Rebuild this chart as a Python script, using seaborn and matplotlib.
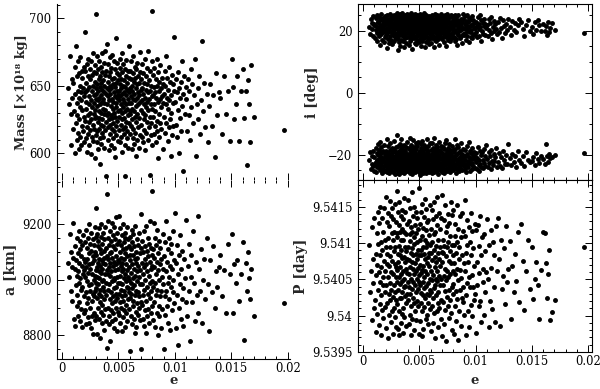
import matplotlib
matplotlib.use("Agg")
import matplotlib.pyplot as plt
import pandas as pd
import seaborn as sns
from matplotlib.ticker import MultipleLocator, FuncFormatter

# eccentricity of each solution (shared by all four panels)
e = [0.00052, 0.00063, 0.00071, 0.00078, 0.00082, 0.00087, 0.00091, 0.00096,
     0.00101, 0.00106, 0.00112, 0.00115, 0.00118, 0.00121, 0.00124, 0.00128, 0.00131, 0.00133,
     0.00136, 0.00139, 0.00141, 0.00144, 0.00146, 0.00149, 0.00151, 0.00153, 0.00156, 0.00158,
     0.00161, 0.00163, 0.00166, 0.00168, 0.00171, 0.00173, 0.00176, 0.00179, 0.00181, 0.00184,
     0.00187, 0.00191, 0.00193, 0.00196, 0.00198,
     0.00200, 0.00203, 0.00204, 0.00207, 0.00209, 0.00212, 0.00213, 0.00216, 0.00218, 0.00219,
     0.00222, 0.00225, 0.00226, 0.00228, 0.00231, 0.00232, 0.00235, 0.00237, 0.00238, 0.00241,
     0.00243, 0.00244, 0.00247, 0.00250, 0.00251, 0.00254, 0.00256, 0.00257, 0.00260, 0.00262,
     0.00264, 0.00265, 0.00268, 0.00270, 0.00273, 0.00274, 0.00276, 0.00279, 0.00280, 0.00283,
     0.00285, 0.00286, 0.00288, 0.00290, 0.00291, 0.00294, 0.00295, 0.00297, 0.00298, 0.00299,
     0.00300, 0.00302, 0.00304, 0.00305, 0.00307, 0.00308, 0.00310, 0.00312, 0.00313, 0.00315,
     0.00317, 0.00318, 0.00320, 0.00321, 0.00323, 0.00325, 0.00326, 0.00328, 0.00329, 0.00331,
     0.00333, 0.00334, 0.00336, 0.00337, 0.00339, 0.00341, 0.00342, 0.00344, 0.00345, 0.00347,
     0.00349, 0.00350, 0.00352, 0.00353, 0.00355, 0.00357, 0.00358, 0.00360, 0.00361, 0.00363,
     0.00365, 0.00366, 0.00368, 0.00369, 0.00371, 0.00373, 0.00374, 0.00376, 0.00378, 0.00379,
     0.00381, 0.00383, 0.00385, 0.00387, 0.00389, 0.00391, 0.00394, 0.00397,
     0.00400, 0.00401, 0.00403, 0.00405, 0.00406, 0.00408, 0.00410, 0.00411, 0.00413, 0.00415,
     0.00416, 0.00418, 0.00420, 0.00421, 0.00423, 0.00424, 0.00426, 0.00428, 0.00429, 0.00431,
     0.00433, 0.00434, 0.00436, 0.00438, 0.00439, 0.00441, 0.00443, 0.00444, 0.00446, 0.00448,
     0.00449, 0.00451, 0.00453, 0.00454, 0.00456, 0.00457, 0.00459, 0.00461, 0.00462, 0.00464,
     0.00466, 0.00467, 0.00469, 0.00471, 0.00472, 0.00474, 0.00476, 0.00477, 0.00479, 0.00481,
     0.00482, 0.00484, 0.00486, 0.00487, 0.00489, 0.00491, 0.00493, 0.00495, 0.00496, 0.00498,
     0.00501, 0.00502, 0.00504, 0.00506, 0.00507, 0.00509, 0.00511, 0.00512, 0.00514, 0.00516,
     0.00517, 0.00519, 0.00520, 0.00522, 0.00524, 0.00525, 0.00527, 0.00529, 0.00530, 0.00532,
     0.00534, 0.00535, 0.00537, 0.00539, 0.00540, 0.00542, 0.00544, 0.00545, 0.00547, 0.00549,
     0.00550, 0.00552, 0.00554, 0.00556, 0.00557, 0.00559, 0.00561, 0.00562, 0.00564, 0.00566,
     0.00567, 0.00569, 0.00571, 0.00572, 0.00574, 0.00576, 0.00578, 0.00579, 0.00581, 0.00583,
     0.00585, 0.00587, 0.00589, 0.00591, 0.00593, 0.00595, 0.00597, 0.00599,
     0.00600, 0.00602, 0.00604, 0.00606, 0.00608, 0.00609, 0.00611, 0.00613, 0.00615, 0.00617,
     0.00619, 0.00620, 0.00622, 0.00624, 0.00626, 0.00628, 0.00630, 0.00631, 0.00633, 0.00635,
     0.00637, 0.00639, 0.00641, 0.00642, 0.00644, 0.00646, 0.00648, 0.00650, 0.00652, 0.00653,
     0.00655, 0.00657, 0.00659, 0.00661, 0.00663, 0.00665, 0.00667, 0.00668, 0.00670, 0.00672,
     0.00674, 0.00676, 0.00678, 0.00680, 0.00682, 0.00684, 0.00687, 0.00689, 0.00691, 0.00694,
     0.00696, 0.00698,
     0.00700, 0.00702, 0.00705, 0.00707, 0.00709, 0.00711, 0.00713, 0.00716, 0.00718, 0.00720,
     0.00722, 0.00724, 0.00727, 0.00729, 0.00731, 0.00733, 0.00735, 0.00738, 0.00740, 0.00742,
     0.00744, 0.00747, 0.00749, 0.00751, 0.00754, 0.00756, 0.00758, 0.00761, 0.00763, 0.00765,
     0.00768, 0.00770, 0.00772, 0.00775, 0.00777, 0.00780, 0.00782, 0.00784, 0.00787, 0.00789,
     0.00791, 0.00793, 0.00795, 0.00797, 0.00799,
     0.00801, 0.00803, 0.00806, 0.00809, 0.00811, 0.00814, 0.00816, 0.00819, 0.00821, 0.00824,
     0.00826, 0.00829, 0.00831, 0.00834, 0.00837, 0.00839, 0.00842, 0.00844, 0.00847, 0.00850,
     0.00852, 0.00855, 0.00858, 0.00861, 0.00863, 0.00866, 0.00869, 0.00872, 0.00875, 0.00878,
     0.00881, 0.00884, 0.00887, 0.00891, 0.00894, 0.00898,
     0.00902, 0.00905, 0.00909, 0.00912, 0.00915, 0.00918, 0.00922, 0.00925, 0.00928, 0.00931,
     0.00935, 0.00938, 0.00941, 0.00945, 0.00948, 0.00951, 0.00955, 0.00958, 0.00962, 0.00965,
     0.00968, 0.00972, 0.00976, 0.00979, 0.00983, 0.00987, 0.00991, 0.00996,
     0.01003, 0.01008, 0.01012, 0.01017, 0.01021, 0.01026, 0.01030, 0.01034, 0.01039, 0.01043,
     0.01048, 0.01052, 0.01057, 0.01062, 0.01066, 0.01071, 0.01076, 0.01081, 0.01087, 0.01094,
     0.01102, 0.01108, 0.01115, 0.01121, 0.01127, 0.01134, 0.01140, 0.01147, 0.01154, 0.01160,
     0.01167, 0.01175, 0.01183, 0.01192,
     0.01201, 0.01209, 0.01217, 0.01226, 0.01235, 0.01244, 0.01252, 0.01261, 0.01271, 0.01281, 0.01292,
     0.01303, 0.01315, 0.01326, 0.01338, 0.01351, 0.01363, 0.01376, 0.01390,
     0.01404, 0.01419, 0.01434, 0.01451, 0.01467, 0.01484,
     0.01502, 0.01514, 0.01528, 0.01541, 0.01553, 0.01566, 0.01584,
     0.01603, 0.01615, 0.01627, 0.01636, 0.01645, 0.01653, 0.01664, 0.01677,
     0.01702, 0.01968]

# mass [x10^18 kg]
mass = [648, 636, 672, 606, 629, 655, 641, 618,
        652, 631, 600, 664, 644, 622, 679, 637, 610, 657, 628, 646, 668, 615, 603, 641, 659, 625,
        634, 650, 612, 671, 639, 606, 645, 661, 620, 632, 656, 616, 648, 627, 664, 608, 642,
        661, 624, 645, 690, 633, 611, 652, 638, 666, 619, 601, 647, 628, 657, 614, 670, 636, 623,
        649, 606, 642, 662, 630, 617, 655, 599, 639, 668, 625, 646, 612, 658, 634, 621, 650, 674,
        609, 643, 629, 660, 618, 637, 653, 596, 632, 665, 626, 648, 613, 640,
        703, 644, 627, 659, 616, 635, 651, 608, 672, 639, 623, 646, 662, 603, 631, 655, 618, 641,
        668, 626, 649, 611, 636, 657, 592, 643, 621, 664, 630, 652, 607, 638, 674, 615, 647, 625,
        660, 633, 612, 654, 640, 620, 667, 629, 645, 604, 650, 637, 676, 617, 658, 632, 623, 644,
        583, 661, 628, 648,
        681, 636, 653, 619, 642, 666, 610, 630, 657, 625, 647, 602, 639, 671, 621, 650, 614, 644,
        660, 628, 635, 606, 663, 648, 618, 640, 655, 626, 673, 633, 611, 651, 638, 622, 645, 668,
        604, 630, 656, 616, 642, 662, 627, 649, 597, 637, 685, 620, 652, 634, 613, 659, 641, 624,
        646, 667, 609, 631, 654, 643,
        639, 658, 617, 646, 627, 670, 632, 651, 608, 642, 663, 621, 636, 655, 612, 648, 630, 674,
        625, 644, 601, 660, 634, 618, 650, 640, 666, 614, 638, 654, 626, 645, 606, 662, 631, 649,
        619, 583, 657, 636, 643, 623, 669, 611, 647, 633, 652, 616, 640, 661, 628, 604, 656, 637,
        679, 622, 645, 631,
        648, 629, 661, 614, 642, 655, 620, 637, 668, 603, 650, 633, 625, 646, 659, 611, 640, 672,
        618, 653, 631, 644, 607, 664, 627, 639, 656, 615, 648, 635, 598, 662, 623, 651, 641, 610,
        667, 629, 645, 619, 657, 636, 604, 652, 626, 643, 675, 613, 638, 660, 632, 647,
        621, 655, 639, 612, 648, 666, 630, 644, 608, 659, 625, 636, 652, 617, 670, 641, 628, 602,
        657, 634, 647, 615, 663, 638, 623, 651, 610, 645, 676, 632, 619, 654, 640, 584, 627, 661,
        646, 613, 636, 650, 622, 668, 642, 606, 633,
        705, 643, 627, 658, 614, 649, 636, 663, 620, 645, 631, 655, 608, 641, 670, 624, 650, 616,
        638, 660, 596, 646, 629, 653, 612, 640, 665, 622, 648, 634, 618, 656, 642, 603, 637, 651,
        644, 627, 661, 615, 650, 636, 672, 622, 641, 656, 609, 633, 647, 619, 664, 639, 625, 653,
        598, 643, 630, 658, 613, 637, 651, 620, 646, 686,
        638, 655, 621, 645, 612, 660, 632, 648, 600, 641, 626, 653, 616, 668, 635, 644, 587, 657,
        629, 649,
        640, 616, 655, 628, 646, 610, 662, 634, 651, 622, 643, 670, 598, 636,
        648, 625, 657, 614, 639, 683, 631, 652, 619, 644, 608,
        635, 651, 620, 643, 597, 659, 628, 645,
        641, 614, 657, 629, 646, 609,
        670, 649, 625, 636, 657, 609, 646,
        662, 626, 646, 591, 654, 636, 608, 665,
        627, 617]

# inclination [deg], upper (prograde) cluster
incl_upper = [21.3, 19.0, 23.8, 20.5, 22.6, 18.4, 24.9, 21.9,
              22.4, 17.6, 24.1, 20.2, 21.7, 19.3, 25.2, 16.8, 23.0, 20.9, 22.8, 18.5, 21.1, 24.6,
              19.8, 23.5, 15.4, 22.0, 20.6, 25.6, 18.9, 21.5, 23.9, 17.2, 20.0, 22.5, 19.6, 24.3,
              21.2, 16.3, 23.2, 20.4, 22.1, 18.1, 24.8,
              20.7, 23.4, 18.8, 22.3, 14.6, 21.0, 25.1, 19.5, 22.9, 17.4, 24.0, 20.3, 21.8, 16.0,
              23.6, 19.9, 22.2, 25.4, 18.3, 21.4, 23.1, 20.1, 17.0, 24.5, 21.6, 19.2, 22.7, 15.8,
              23.8, 20.8, 18.6, 24.9, 21.9, 19.7, 22.4, 16.6, 25.3, 20.5, 23.3, 18.0, 21.3, 24.2,
              19.4, 22.6, 17.8, 20.9, 23.7, 21.1, 25.8, 19.1,
              22.0, 18.2, 24.4, 20.6, 13.8, 23.0, 21.5, 17.5, 25.0, 19.8, 22.8, 16.4, 21.2, 24.7,
              20.0, 23.4, 18.7, 22.5, 15.2, 25.5, 21.7, 19.3, 23.9, 17.1, 22.2, 20.4, 24.1, 18.9,
              21.0, 25.9, 19.6, 23.2, 16.9, 22.7, 20.2, 24.6, 18.4, 21.8, 23.6, 19.0, 14.9, 22.4,
              20.8, 25.2, 17.7, 23.1, 21.4, 19.5, 24.3, 18.1, 22.1, 20.7, 16.1, 23.8, 21.1, 25.6,
              19.2, 22.9,
              21.6, 17.9, 24.0, 20.3, 22.6, 15.6, 25.3, 19.7, 23.3, 18.5, 21.9, 24.8, 20.9, 16.7,
              22.3, 19.1, 25.7, 23.5, 17.3, 21.3, 20.1, 24.2, 18.8, 22.8, 14.3, 23.7, 21.0, 19.4,
              25.0, 20.6, 17.6, 22.5, 24.5, 18.3, 21.7, 23.0, 16.2, 20.4, 25.4, 19.9, 22.0, 18.0,
              24.1, 21.2, 15.9, 23.4, 20.2, 22.7, 19.3, 25.1, 17.0, 21.5, 24.6, 18.6, 22.2, 20.8,
              23.9, 16.5, 21.8, 19.6,
              23.2, 19.0, 21.4, 25.5, 17.4, 22.4, 20.0, 24.4, 18.2, 21.9, 15.1, 23.6, 20.5, 22.9,
              19.5, 25.2, 16.8, 21.1, 24.0, 18.7, 22.3, 20.7, 23.8, 17.8, 21.6, 19.2, 25.8, 22.6,
              14.7, 20.3, 24.7, 18.4, 23.0, 21.3, 19.8, 22.1, 16.3, 25.0, 20.9, 23.5, 18.0, 21.7,
              24.3, 19.4, 22.8, 17.2, 20.6, 23.3, 21.0, 15.7, 24.9, 19.7, 22.5, 18.9, 21.5, 23.9,
              20.1, 17.6,
              22.1, 18.6, 24.5, 20.7, 16.0, 23.1, 21.3, 19.3, 25.3, 17.7, 22.7, 20.2, 24.0, 18.3,
              21.8, 14.9, 23.6, 19.9, 22.4, 25.6, 17.1, 21.0, 23.9, 19.6, 20.5, 24.8, 18.1, 22.9,
              16.6, 21.5, 23.3, 20.0, 25.0, 19.0, 22.2, 17.5, 24.2, 20.8, 21.6, 18.8, 23.5, 15.5,
              22.6, 19.4, 24.6, 21.2, 20.3, 23.0, 17.9, 22.0, 25.4, 19.7,
              20.9, 23.7, 17.3, 22.3, 19.2, 24.9, 21.4, 18.5, 23.2, 16.4, 20.6, 25.1, 22.0, 19.8,
              24.1, 17.9, 21.7, 23.4, 15.3, 20.1, 22.8, 18.7, 25.5, 21.1, 19.5, 23.9, 17.0, 22.5,
              20.4, 24.4, 18.2, 21.9, 16.7, 23.0, 20.8, 25.2, 19.1, 22.6, 18.9, 24.7, 21.3, 17.6,
              23.5, 20.0, 22.2,
              21.2, 24.3, 18.0, 22.7, 19.6, 25.0, 16.9, 23.1, 20.4, 21.8, 17.4, 24.6, 19.3, 22.4,
              15.6, 23.6, 20.9, 18.6, 25.3, 21.5, 19.9, 23.3, 17.8, 22.1, 20.2, 24.0, 18.4, 21.7,
              16.2, 22.9, 20.6, 25.6, 19.0, 23.8, 21.0, 18.8,
              22.4, 19.3, 24.8, 20.7, 17.2, 23.2, 21.6, 18.5, 25.1, 20.0, 22.8, 16.5, 21.3, 24.2,
              19.7, 23.6, 18.1, 22.0, 20.4, 24.9, 17.7, 21.9, 19.0, 23.4, 20.8, 22.6, 18.8, 21.1,
              23.0, 19.6, 21.7, 17.9, 24.4, 20.5, 22.3, 18.4, 25.0, 21.2, 16.9, 23.5, 20.1, 22.7,
              19.1, 24.0, 21.5, 18.6, 22.1, 20.8,
              21.9, 18.3, 23.7, 20.3, 22.5, 19.4, 24.6, 17.5, 21.4, 23.1, 19.9, 22.2, 20.6, 18.9,
              22.8, 19.8, 24.1, 20.9, 17.8, 23.4, 21.6, 19.2, 22.3, 20.4, 23.9,
              21.4, 18.8, 23.2, 20.2, 22.5, 19.6, 21.9, 23.8,
              22.9, 20.6, 18.4, 21.8, 23.5, 20.1,
              21.2, 19.0, 22.8, 20.4, 23.4, 21.8, 20.0,
              22.2, 20.1, 21.5, 18.6, 23.0, 19.8, 21.0, 22.6,
              20.3, 19.3]

# inclination [deg], lower (retrograde) cluster
incl_lower = [-21.8, -19.2, -24.6, -20.4, -22.9, -23.5, -18.7, -25.2,
              -20.6, -23.1, -17.9, -22.2, -25.5, -19.4, -21.5, -24.0, -16.5, -22.8, -20.1, -23.8,
              -18.3, -21.2, -25.0, -19.8, -22.5, -15.9, -24.4, -20.8, -23.3, -17.4, -21.9, -25.8,
              -19.1, -22.0, -24.7, -18.6, -21.4, -23.6, -16.9, -20.3, -22.6, -25.3, -19.6,
              -22.3, -18.9, -24.9, -20.7, -23.5, -14.8, -21.6, -25.6, -19.3, -22.9, -17.2, -24.2,
              -20.2, -23.0, -21.1, -26.0, -18.4, -22.4, -16.1, -24.5, -20.9, -23.7, -19.7, -21.8,
              -25.1, -17.8, -22.7, -20.4, -24.0, -18.1, -23.2, -21.3, -25.4, -19.0, -22.1, -15.5,
              -23.9, -20.6, -24.7, -21.9, -18.7, -22.5, -26.2, -19.9, -23.4, -17.5, -21.0, -24.3,
              -20.0, -22.8,
              -21.4, -24.8, -13.6, -22.6, -19.5, -25.7, -20.8, -23.3, -17.0, -22.0, -24.4, -18.6,
              -21.7, -26.3, -20.1, -23.6, -16.4, -22.9, -19.2, -25.0, -21.2, -23.9, -18.0, -22.3,
              -15.0, -24.6, -20.5, -21.9, -25.5, -19.8, -23.1, -17.6, -22.4, -20.0, -24.1, -18.9,
              -21.5, -25.9, -19.4, -23.5, -16.7, -22.1, -20.7, -24.9, -18.3, -21.0, -23.7, -19.0,
              -22.7, -25.2, -17.3, -20.3, -23.0, -21.8, -24.3, -15.8, -22.2, -20.9,
              -23.4, -19.7, -25.3, -21.1, -17.7, -22.8, -24.5, -20.2, -14.4, -23.0, -21.6, -18.5,
              -25.8, -22.3, -19.3, -24.0, -16.8, -21.3, -23.8, -20.6, -26.1, -18.2, -22.6, -24.7,
              -20.0, -15.3, -23.3, -21.9, -19.0, -25.1, -22.1, -17.4, -24.2, -20.8, -23.6, -18.8,
              -21.5, -25.6, -19.5, -22.4, -16.0, -24.4, -20.4, -23.1, -21.7, -18.0, -25.0, -22.0,
              -19.9, -23.9, -17.1, -21.2, -24.8, -20.7, -22.7, -15.7, -23.5, -19.2, -21.4, -25.4,
              -22.5, -18.7, -24.1, -20.3, -26.4, -21.8, -16.6, -23.2, -19.6, -25.2, -22.2, -17.9,
              -24.6, -20.9, -23.7, -15.4, -21.3, -25.7, -19.1, -22.8, -18.4, -24.3, -20.5, -23.0,
              -21.6, -16.9, -25.4, -19.8, -22.4, -24.9, -17.5, -21.0, -23.5, -20.1, -26.0, -18.2,
              -22.7, -24.0, -19.4, -21.9, -14.9, -23.3, -20.6, -25.0, -18.9, -22.0, -24.5, -17.2,
              -21.5, -23.8, -19.9, -25.6, -20.7, -22.9, -16.3, -24.2, -21.1, -23.6,
              -21.3, -25.1, -18.3, -23.2, -20.0, -24.7, -16.2, -22.1, -19.6, -25.9, -21.8, -17.7,
              -23.9, -20.5, -24.4, -14.6, -22.6, -19.2, -25.5, -21.0, -23.4, -18.0, -22.3, -20.8,
              -24.1, -16.8, -21.5, -25.3, -19.5, -23.6, -17.4, -22.0, -24.8, -20.2, -23.0, -18.7,
              -21.7, -26.2, -19.9, -22.8, -15.8, -24.3, -20.6, -23.5, -18.5, -21.2, -25.0, -19.3,
              -22.5, -24.0, -17.1, -20.9,
              -23.8, -19.4, -25.4, -21.6, -17.3, -22.9, -20.3, -24.6, -18.1, -22.2, -25.8, -16.0,
              -21.1, -23.4, -19.7, -24.9, -20.7, -22.6, -15.2, -24.2, -18.8, -21.9, -25.2, -20.1,
              -23.1, -17.8, -22.4, -19.0, -24.5, -21.3, -16.6, -23.7, -20.4, -25.6, -18.5, -22.0,
              -24.0, -19.8, -21.7, -23.3, -17.0, -22.7, -20.8, -24.7, -18.3,
              -22.3, -25.0, -19.1, -23.5, -20.6, -14.9, -24.3, -21.4, -18.2, -22.8, -25.7, -20.0,
              -23.1, -16.7, -21.8, -24.6, -19.5, -22.5, -17.6, -23.9, -20.9, -25.3, -18.6, -22.0,
              -24.1, -20.3, -16.3, -23.3, -21.2, -19.7, -24.8, -22.7, -18.0, -21.5, -23.7, -20.5,
              -21.7, -24.4, -18.4, -22.9, -20.2, -25.5, -17.1, -23.4, -19.6, -21.9, -24.0, -15.9,
              -22.4, -20.8, -25.1, -18.9, -23.1, -21.2, -19.3, -24.7, -17.7, -22.6, -20.4, -23.7,
              -19.0, -21.4, -24.2, -20.7,
              -22.2, -19.5, -24.5, -20.9, -17.6, -23.3, -21.5, -25.2, -18.7, -22.8, -20.1, -23.9,
              -19.2, -21.8, -24.1, -18.2, -22.5, -20.5, -23.6, -16.9,
              -21.3, -23.8, -19.0, -22.6, -20.4, -24.6, -18.5, -21.9, -23.2, -19.8, -22.1, -20.7,
              -17.8, -24.0,
              -22.4, -19.4, -23.6, -20.8, -24.3, -18.6, -21.7, -23.0, -20.1, -22.9, -16.4,
              -21.1, -23.4, -19.7, -22.3, -20.5, -24.0, -18.9, -21.8,
              -22.7, -20.3, -23.5, -19.1, -21.6, -22.2,
              -22.0, -20.6, -23.2, -19.4, -21.2, -22.6, -20.2,
              -21.4, -23.0, -16.5, -20.2, -22.4, -19.7, -21.1, -20.8,
              -20.0, -19.3]

# semi-major axis [km]
a_km = [9060, 9010, 9165, 8960, 9100, 9045, 8925, 9080,
        9205, 8860, 9040, 8835, 9120, 8980, 9070, 8905, 9150, 9015, 8945, 9095, 8870, 9030,
        9175, 8990, 9060, 8920, 9110, 8850, 9005, 9140, 8965, 9085, 8895, 9050, 8830, 9125,
        8975, 9020, 9160, 8940, 9075, 8880, 9035,
        9010, 9135, 8890, 9065, 8955, 9180, 8840, 9045, 8995, 9115, 8915, 9075, 8865, 9150,
        9025, 8935, 9095, 8980, 9200, 8845, 9055, 8960, 9130, 8900, 9040, 8825, 9105, 8985,
        9170, 8925, 9060, 8870, 9020, 9145, 8950, 9085, 8805, 9000, 9125, 8940, 9070, 8880,
        9190, 9015, 8960, 9100, 8855, 9035, 8990, 9155,
        9260, 8970, 9090, 8870, 9045, 9165, 8935, 9010, 8805, 9120, 8985, 9060, 8900, 9140,
        9030, 8950, 9185, 8860, 9075, 9005, 8920, 9110, 8790, 9050, 8965, 9155, 8885, 9025,
        9095, 8940, 9200, 8995, 8845, 9070, 9130, 8910, 9040, 8975, 9170, 8875, 9060, 9000,
        8930, 9105, 8820, 9080, 8960, 9145, 9020, 8895, 9190, 9055, 8945, 9115, 8990, 8850,
        9035, 9085,
        9310, 8755, 9020, 9150, 8900, 9075, 8965, 9210, 8840, 9045, 9125, 8985, 8870, 9095,
        9015, 8930, 9175, 8780, 9060, 8955, 9140, 8890, 9030, 9100, 8915, 9205, 8995, 8850,
        9080, 9160, 8940, 9050, 8880, 9120, 9005, 8970, 9190, 8825, 9065, 9000, 8925, 9110,
        8860, 9035, 9145, 8975, 9085, 8900, 9225, 8950, 9055, 8815, 9130, 9010, 8935, 9170,
        8990, 9070, 8885, 9040,
        9230, 8950, 9065, 8875, 9140, 9015, 8920, 9100, 8990, 9185, 8845, 9050, 8965, 9125,
        8900, 9080, 9030, 8815, 9160, 8940, 9060, 8985, 9110, 8865, 9040, 9200, 8925, 9005,
        9135, 8890, 9075, 8960, 9150, 8830, 9020, 9095, 8945, 9170, 8880, 9055, 8995, 9115,
        8910, 9035, 8975, 9190, 8850, 9085, 9010, 8930, 9145, 8970, 9045, 8895, 9120, 9000,
        8955, 9090,
        8745, 9070, 8935, 9155, 8990, 8870, 9110, 9025, 8950, 9180, 8840, 9055, 8970, 9135,
        8905, 9090, 9005, 8925, 9165, 8860, 9040, 9120, 8980, 8810, 9075, 8945, 9195, 9015,
        8885, 9100, 8960, 9060, 8830, 9145, 8995, 8915, 9080, 9030, 8875, 9125, 8955, 9050,
        8900, 9170, 9010, 8940, 9095, 8855, 9035, 8985, 9115, 8920,
        9235, 8750, 9060, 8910, 9140, 8985, 8860, 9100, 9020, 8945, 9175, 8835, 9045, 8965,
        9120, 8890, 9075, 9000, 8925, 9195, 8810, 9055, 8975, 9105, 8870, 9030, 9150, 8950,
        9085, 8895, 9015, 9130, 8845, 9065, 8990, 8935, 9210, 8880, 9040, 8960, 9115, 8905,
        9050, 8995, 9090,
        9320, 8975, 9110, 8855, 9045, 9205, 8920, 9080, 8990, 9150, 8830, 9020, 8945, 9125,
        8880, 9065, 8965, 9180, 8800, 9035, 9095, 8905, 9000, 9140, 8870, 9055, 8940, 9115,
        8960, 8825, 9075, 9010, 8895, 9165, 8985, 9040,
        8750, 9085, 8940, 9135, 8875, 9030, 9210, 8960, 9065, 8905, 9110, 8990, 8845, 9150,
        9010, 8930, 9050, 8820, 9095, 8975, 9130, 8890, 9040, 8955, 9175, 9000, 8915, 9070,
        9240, 8825, 9060, 8945, 9125, 8765, 9020, 8900, 9090, 8985, 9160, 8860, 9040, 8930,
        9105, 8970, 8835, 9075, 9005, 8920,
        9215, 8870, 9050, 8960, 9130, 8780, 9010, 9090, 8920, 9175, 8990, 8850, 9065, 8945,
        9230, 8880, 9040, 8960, 9110, 8845, 9000, 9075, 8930, 9150, 8985,
        8815, 9070, 8955, 9120, 8900, 9030, 8975, 9045,
        9090, 8940, 9035, 8880, 9130, 9020,
        9165, 8880, 9055, 8990, 9070, 8925, 9020,
        9135, 8785, 9060, 8960, 9100, 9005, 8930, 9040,
        8870, 8915]

# orbital period [day]
period = [9.54097, 9.54033, 9.54061, 9.53994, 9.54122, 9.54045, 9.54078, 9.54011,
          9.54134, 9.54022, 9.54085, 9.53978, 9.54056, 9.54114, 9.54002, 9.54070, 9.54143,
          9.54036, 9.54099, 9.53987, 9.54060, 9.54128, 9.54016, 9.54084, 9.54047, 9.54150,
          9.53973, 9.54101, 9.54029, 9.54067, 9.54135, 9.54008, 9.54091, 9.54054, 9.53997,
          9.54115, 9.54043, 9.54076, 9.54149, 9.54012, 9.54105, 9.54033, 9.54061,
          9.54164, 9.54042, 9.54095, 9.53983, 9.54071, 9.54129, 9.54017, 9.54085, 9.54053,
          9.54141, 9.53969, 9.54107, 9.54030, 9.54068, 9.54001, 9.54124, 9.54082, 9.54045,
          9.54158, 9.54021, 9.54094, 9.53992, 9.54060, 9.54138, 9.54036, 9.54114, 9.54007,
          9.54075, 9.54148, 9.54026, 9.54104, 9.54057, 9.53975, 9.54133, 9.54011, 9.54089,
          9.54042, 9.54115, 9.53998, 9.54071, 9.54154, 9.54032, 9.54095, 9.54053, 9.54021,
          9.54129, 9.54067, 9.53985, 9.54108, 9.54046,
          9.54172, 9.54063, 9.54016, 9.54114, 9.53982, 9.54085, 9.54143, 9.54036, 9.54074,
          9.54007, 9.54125, 9.54053, 9.54096, 9.53974, 9.54157, 9.54025, 9.54083, 9.54116,
          9.54044, 9.54067, 9.53990, 9.54138, 9.54091, 9.54024, 9.54057, 9.54105, 9.54003,
          9.54146, 9.54079, 9.54032, 9.54120, 9.54048, 9.53976, 9.54104, 9.54062, 9.54010,
          9.54133, 9.54081, 9.54039, 9.54162, 9.54050, 9.53998, 9.54116, 9.54074, 9.54027,
          9.54095, 9.54143, 9.54041, 9.54089, 9.54017, 9.54065, 9.54113, 9.53986, 9.54059,
          9.54127, 9.54030, 9.54078, 9.54046,
          9.54159, 9.54022, 9.54095, 9.54058, 9.54131, 9.53989, 9.54077, 9.54040, 9.54113,
          9.54001, 9.54149, 9.54067, 9.54030, 9.54103, 9.54086, 9.53974, 9.54122, 9.54050,
          9.54013, 9.54171, 9.54074, 9.54037, 9.54115, 9.54093, 9.53996, 9.54064, 9.54137,
          9.54025, 9.54083, 9.54046, 9.54109, 9.54017, 9.54150, 9.54058, 9.53981, 9.54099,
          9.54042, 9.54125, 9.54073, 9.54006, 9.54114, 9.54032, 9.54085, 9.54143, 9.54061,
          9.53994, 9.54102, 9.54020, 9.54078, 9.54051, 9.54134, 9.54037, 9.54090, 9.54013,
          9.54066, 9.54119, 9.54047, 9.53975, 9.54083, 9.54056,
          9.54176, 9.54104, 9.54042, 9.54070, 9.53993, 9.54126, 9.54059, 9.54017, 9.54090,
          9.54143, 9.54031, 9.54084, 9.53972, 9.54110, 9.54063, 9.54006, 9.54154, 9.54047,
          9.54095, 9.54028, 9.54121, 9.54069, 9.53982, 9.54085, 9.54038, 9.54136, 9.54054,
          9.54012, 9.54105, 9.54078, 9.54161, 9.54024, 9.54062, 9.53995, 9.54118, 9.54041,
          9.54094, 9.54147, 9.54030, 9.54073, 9.54001, 9.54129, 9.54057, 9.54100, 9.54018,
          9.54081, 9.53989, 9.54132, 9.54045, 9.54068, 9.54111, 9.54029, 9.54087, 9.54035,
          9.54153, 9.54051, 9.54009, 9.54097,
          9.54120, 9.54033, 9.54086, 9.53979, 9.54062, 9.54145, 9.54013, 9.54101, 9.54049,
          9.54077, 9.53990, 9.54133, 9.54056, 9.54024, 9.54112, 9.54090, 9.54038, 9.54156,
          9.54004, 9.54067, 9.54115, 9.54043, 9.54081, 9.53969, 9.54137, 9.54050, 9.54028,
          9.54096, 9.54074, 9.54007, 9.54125, 9.54048, 9.54061, 9.54164, 9.54017, 9.54105,
          9.54033, 9.54086, 9.53984, 9.54142, 9.54055, 9.54078, 9.54011, 9.54119, 9.54042,
          9.54095, 9.54068, 9.53996, 9.54134, 9.54022, 9.54050, 9.54088,
          9.54166, 9.54074, 9.53972, 9.54105, 9.54043, 9.54086, 9.54019, 9.54132, 9.54055,
          9.53988, 9.54096, 9.54034, 9.54152, 9.54065, 9.54008, 9.54116, 9.54049, 9.54082,
          9.53965, 9.54123, 9.54026, 9.54094, 9.54062, 9.54140, 9.54013, 9.54101, 9.54054,
          9.53997, 9.54075, 9.54128, 9.54036, 9.54089, 9.54022, 9.54110, 9.54058, 9.54156,
          9.54004, 9.54072, 9.54040, 9.54098, 9.53981, 9.54139, 9.54062, 9.54030, 9.54083,
          9.54146, 9.54044, 9.54097, 9.53975, 9.54073, 9.54126, 9.54014, 9.54057, 9.54110,
          9.53993, 9.54086, 9.54034, 9.54152, 9.54065, 9.54023, 9.54101, 9.54049, 9.53967,
          9.54120, 9.54078, 9.54006, 9.54094, 9.54137, 9.54035, 9.54063, 9.53986, 9.54109,
          9.54052, 9.54025, 9.54083, 9.54141, 9.54019, 9.54117, 9.54040, 9.54073, 9.54001,
          9.54159, 9.54062, 9.54110, 9.53973, 9.54086, 9.54029, 9.54132, 9.54045, 9.54098,
          9.54006, 9.54074, 9.54122, 9.53985, 9.54053, 9.54101, 9.54039, 9.54142, 9.54015,
          9.54083, 9.54056, 9.53999, 9.54117, 9.54040, 9.54093, 9.54021, 9.54069, 9.54127,
          9.54030,
          9.54118, 9.53976, 9.54074, 9.54042, 9.54125, 9.54013, 9.54096, 9.54059, 9.54137,
          9.54020, 9.54083, 9.53991, 9.54109, 9.54047, 9.54065, 9.54113, 9.54001, 9.54089,
          9.54032, 9.54060,
          9.54133, 9.54051, 9.53984, 9.54097, 9.54020, 9.54118, 9.54066, 9.54009, 9.54102,
          9.54040, 9.54083, 9.53991, 9.54124, 9.54062,
          9.54135, 9.54078, 9.53986, 9.54104, 9.54037, 9.54055, 9.54093, 9.54016, 9.54124,
          9.54047, 9.54065,
          9.54103, 9.53996, 9.54069, 9.54032, 9.54085, 9.54048, 9.54116, 9.54019,
          9.54127, 9.54075, 9.54008, 9.54061, 9.54104, 9.54037,
          9.54095, 9.54023, 9.54051, 9.54074, 9.54042, 9.53995, 9.54063,
          9.54116, 9.54114, 9.54072, 9.54025, 9.54058, 9.54091, 9.53994, 9.54005,
          9.54022, 9.54095]

x_ticks = [0, 0.005, 0.01, 0.015, 0.02]

sns.set_theme(style="ticks")
plt.rcParams["font.family"] = ["DejaVu Serif", "DejaVu Sans"]
plt.rcParams["axes.edgecolor"] = "black"
plt.rcParams["axes.linewidth"] = 0.8

df = pd.DataFrame({"e": e, "mass": mass, "i_up": incl_upper, "i_lo": incl_lower,
                   "a": a_km, "P": period})

fig = plt.figure(figsize=(6, 3.89), dpi=100)
ax_m = fig.add_axes([0.095, 0.5373, 0.3883, 0.4524])
ax_i = fig.add_axes([0.5967, 0.5373, 0.39, 0.4524])
ax_a = fig.add_axes([0.095, 0.0771, 0.3883, 0.4602])
ax_p = fig.add_axes([0.5967, 0.0951, 0.39, 0.4422])

kw = dict(color="black", s=12.5, linewidth=0, legend=False)
sns.scatterplot(data=df, x="e", y="mass", ax=ax_m, **kw)
sns.scatterplot(data=df, x="e", y="i_up", ax=ax_i, **kw)
sns.scatterplot(data=df, x="e", y="i_lo", ax=ax_i, **kw)
sns.scatterplot(data=df, x="e", y="a", ax=ax_a, **kw)
sns.scatterplot(data=df, x="e", y="P", ax=ax_p, **kw)


def fmt(v, pos):
    return f"{v:g}".replace("-", "\u2212")


for ax in (ax_m, ax_a):
    ax.set_xlim(-0.00045, 0.0202)
for ax in (ax_i, ax_p):
    ax.set_xlim(-0.00045, 0.02035)

ax_m.set_ylim(580, 710.5)
ax_i.set_ylim(-28.1, 28.7)
ax_a.set_ylim(8715, 9359)
ax_p.set_ylim(9.5395, 9.54187)

minors = {ax_m: 10, ax_i: 5, ax_a: 50, ax_p: 0.0001}
majors = {ax_m: 50, ax_i: 20, ax_a: 200, ax_p: 0.0005}

for ax in (ax_m, ax_i, ax_a, ax_p):
    ax.set_xticks(x_ticks)
    ax.xaxis.set_minor_locator(MultipleLocator(0.001))
    ax.yaxis.set_major_locator(MultipleLocator(majors[ax]))
    ax.yaxis.set_minor_locator(MultipleLocator(minors[ax]))
    ax.xaxis.set_major_formatter(FuncFormatter(fmt))
    ax.yaxis.set_major_formatter(FuncFormatter(fmt))
    ax.tick_params(which="both", direction="in", colors="black", labelsize=8.3,
                   width=0.7, pad=4)
    ax.tick_params(axis="x", pad=2.5)
    ax.tick_params(which="major", length=5)
    ax.tick_params(which="minor", length=2.5)
    ax.set_xlabel("")
    ax.set_ylabel("")
    ax.set_facecolor("white")

# left column: open frame
ax_m.spines["top"].set_visible(False)
ax_m.spines["right"].set_visible(False)
ax_m.spines["bottom"].set_visible(False)
ax_m.tick_params(which="both", top=False, right=False, bottom=True, labelbottom=False)
ax_a.spines["top"].set_visible(False)
ax_a.spines["right"].set_visible(False)
ax_a.tick_params(which="both", top=True, right=False, bottom=True)

# right column: full box
ax_i.tick_params(which="both", top=True, right=True, labelbottom=False)
ax_p.tick_params(which="both", top=True, right=True)

lab = dict(fontsize=10, fontweight="bold")
ax_m.set_ylabel("Mass [\u00d710\u00b9\u2078 kg]", fontsize=9.3, fontweight="bold")
ax_i.set_ylabel("i [deg]", **lab)
ax_a.set_ylabel("a [km]", **lab)
ax_p.set_ylabel("P [day]", **lab)
ax_a.set_xlabel("e", fontsize=9.5, fontweight="bold")
ax_p.set_xlabel("e", fontsize=9.5, fontweight="bold")

ax_m.yaxis.set_label_coords(-0.125, 0.5)
ax_a.yaxis.set_label_coords(-0.17, 0.5)
ax_i.yaxis.set_label_coords(-0.165, 0.5)
ax_p.yaxis.set_label_coords(-0.215, 0.5)
ax_a.xaxis.set_label_coords(0.5, -0.086)
ax_p.xaxis.set_label_coords(0.5, -0.13)

fig.savefig("out.png", dpi=100, facecolor="white")
